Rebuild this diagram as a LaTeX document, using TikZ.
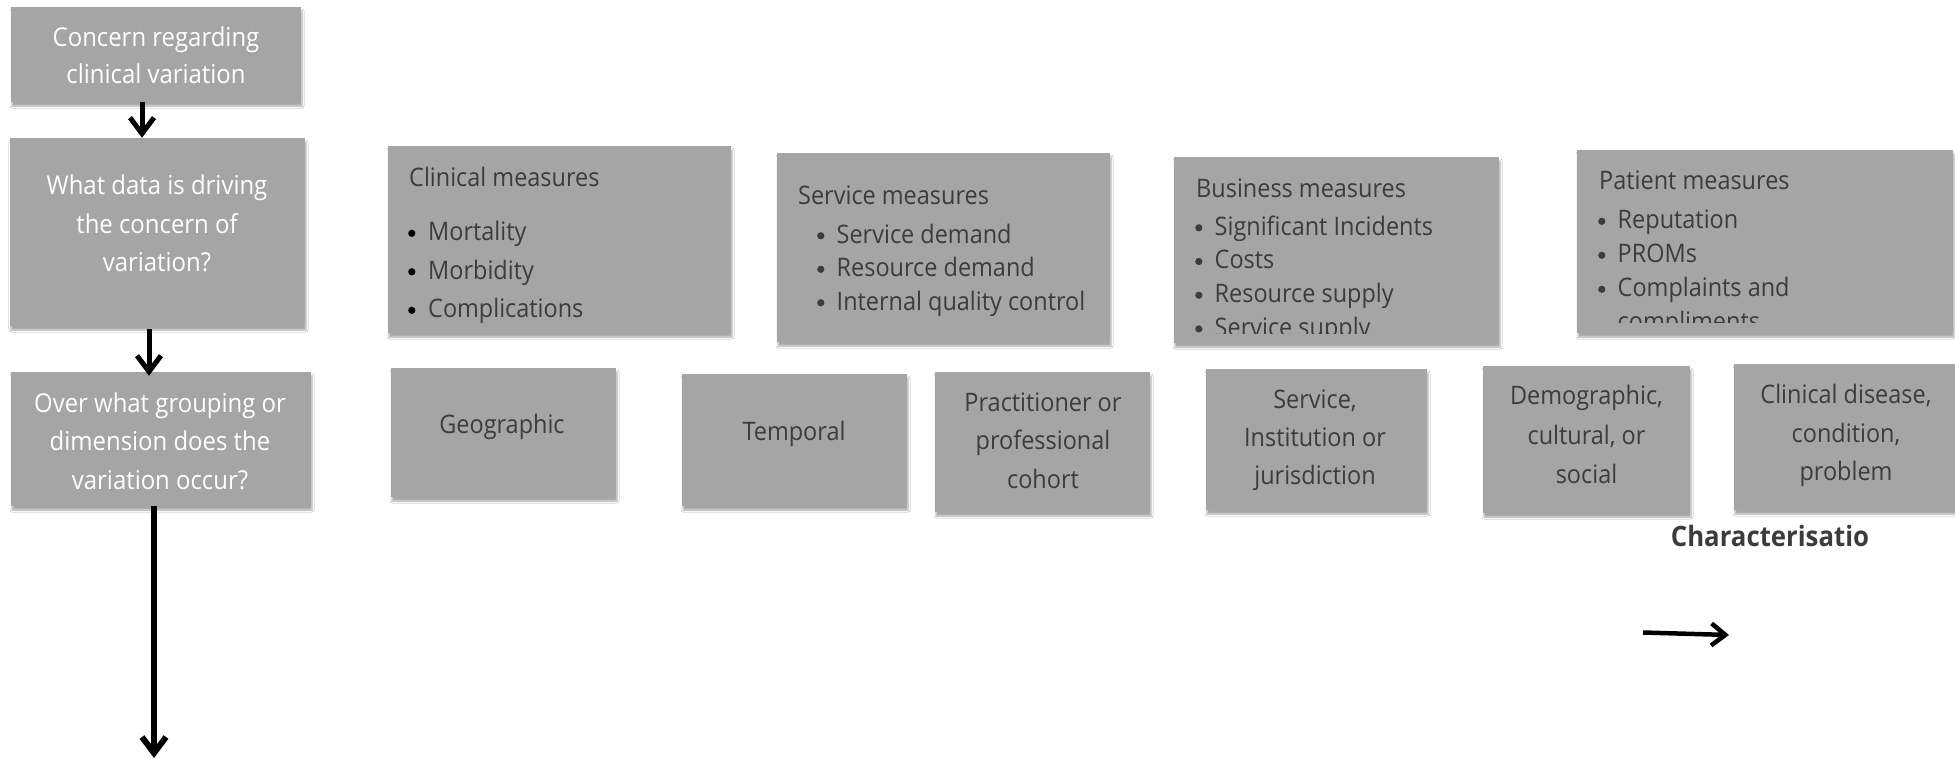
\documentclass[tikz,border=0pt]{standalone}
\usepackage{fontspec}
\setmainfont{Open Sans}[FakeStretch=0.92]
\usetikzlibrary{arrows.meta,shadows.blur}
\definecolor{boxgray}{HTML}{A5A5A5}
\definecolor{ink}{HTML}{3C3C3C}

% stacked lines with a fixed baseline distance; the first line is the baseline
\newcommand\linesc[2]{\vtop{\baselineskip=#1\lineskiplimit=-100pt\lineskip=0pt\halign{\hfil##\hfil\cr#2\crcr}}}
\newcommand\linesl[2]{\vtop{\baselineskip=#1\lineskiplimit=-100pt\lineskip=0pt\halign{##\hfil\cr#2\crcr}}}
% round list bullet
\newcommand\dotmark{\tikz[baseline=0pt]\fill (3.6pt,7.2pt) circle[radius=3.6pt];}
\newcommand\bul{\hbox to 19.5pt{\dotmark\hss}}
\newcommand\bulk{\hbox to 20pt{\color{black}\dotmark\hss}}

\begin{document}
\begin{tikzpicture}[x=1pt,y=-1pt,
  box/.style={rectangle, fill=boxgray, draw=none, inner sep=0pt,
    blur shadow={shadow xshift=1pt, shadow yshift=-4pt, shadow blur radius=2pt, shadow opacity=35}},
  wtxt/.style={inner sep=0pt, anchor=base, text=white, font=\fontsize{26}{30}\selectfont},
  dtxt/.style={inner sep=0pt, anchor=base, text=ink, font=\fontsize{25.5}{30}\selectfont},
  ltxt/.style={dtxt, anchor=base west},
  flow/.style={line width=5pt, -{Straight Barb[length=16pt,width=24pt]}},
]
\fill[white] (0,0) rectangle (1955,760);
\useasboundingbox (0,0) rectangle (1955,760);

% left-hand question column
\node[box, minimum width=290pt, minimum height=95pt]  (q1) at (156,54.5) {};
\node[box, minimum width=295pt, minimum height=188pt] (q2) at (157.5,232) {};
\node[box, minimum width=300pt, minimum height=134pt] (q3) at (161,439) {};
\node[wtxt] (q1t) at (156,46.5)  {\linesc{37pt}{Concern regarding\cr clinical variation}};
\node[wtxt] (q2t) at (157,194.5) {\linesc{38.5pt}{What data is driving\cr the concern of\cr variation?}};
\node[wtxt] (q3t) at (160,412) {\linesc{38.5pt}{Over what grouping or\cr dimension does the\cr variation occur?}};

% measure boxes
\node[box, minimum width=343pt, minimum height=187pt] (m1) at (559.5,239.5) {};
\node[box, minimum width=333pt, minimum height=189pt] (m2) at (943.5,247.5) {};
\node[box, minimum width=325pt, minimum height=186pt] (m3) at (1336.5,250) {};
\node[box, minimum width=376pt, minimum height=183pt] (m4) at (1765,241.5) {};

\node[ltxt] (m1h) at (409,186.5) {Clinical measures};
\node[ltxt] (m1l) at (408,240.5) {\linesl{38.5pt}{\bulk Mortality\cr \bulk Morbidity\cr \bulk Complications}};

\node[ltxt] (m2h) at (798,204.5) {Service measures};
\node[ltxt] (m2l) at (817,243) {\linesl{33.5pt}{\bul Service demand\cr \bul Resource demand\cr \bul Internal quality control}};

\node[ltxt] (m3h) at (1196,197) {Business measures};
\begin{scope}
  \clip (1174,157) rectangle (1499,333);
  \node[ltxt] (m3l) at (1195,235) {\linesl{33.7pt}{\bul Significant Incidents\cr \bul Costs\cr \bul Resource supply\cr \bul Service supply}};
\end{scope}

\node[ltxt] (m4h) at (1599,189.5) {Patient measures};
\begin{scope}
  \clip (1577,150) rectangle (1953,322);
  \node[ltxt] (m4l) at (1598,228.5) {\linesl{34pt}{\bul Reputation\cr \bul PROMs\cr \bul Complaints and\cr \hbox to 19.5pt{\hss}compliments}};
\end{scope}

% dimension boxes
\node[box, minimum width=225pt, minimum height=129pt] (d1) at (503.5,432.5) {};
\node[box, minimum width=225pt, minimum height=132pt] (d2) at (794.5,440) {};
\node[box, minimum width=215pt, minimum height=140pt] (d3) at (1042.5,442) {};
\node[box, minimum width=221pt, minimum height=141pt] (d4) at (1316.5,439.5) {};
\node[box, minimum width=207pt, minimum height=147pt] (d5) at (1586.5,439.5) {};
\node[box, minimum width=226pt, minimum height=146pt] (d6) at (1847,437) {};

\node[dtxt] (d1t) at (502,433.5)  {Geographic};
\node[dtxt] (d2t) at (794,440.5)  {Temporal};
\node[dtxt] (d3t) at (1043,411) {\linesc{38.5pt}{Practitioner or\cr professional\cr cohort}};
\node[dtxt] (d4t) at (1315,408.5) {\linesc{38pt}{Service,\cr Institution or\cr jurisdiction}};
\node[dtxt] (d5t) at (1586.5,404.5) {\linesc{39.5pt}{Demographic,\cr cultural, or\cr social}};
\node[dtxt] (d6t) at (1846,403.5) {\linesc{38.5pt}{Clinical disease,\cr condition,\cr problem}};

\node[inner sep=0pt, anchor=base, text=ink, font=\fontsize{28}{32}\selectfont\bfseries] (ch) at (1770,546.5) {Characterisatio};

% connectors
\coordinate (down) at (154,758);
\coordinate (ra) at (1643,632.5);
\coordinate (rb) at (1729,635);
\draw[flow] ([xshift=-14pt]q1.south) -- ([xshift=-14pt]q1.south |- q2.north);
\draw[flow] ([xshift=-8.5pt,yshift=-3pt]q2.south) -- ([xshift=-8.5pt,yshift=-4pt]q2.south |- q3.north);
\draw[flow, line width=6pt] ([xshift=-7pt]q3.south) -- (down);
\draw[line width=4.5pt, -{Straight Barb[length=14pt,width=22pt]}] (ra) -- (rb);
\end{tikzpicture}
\end{document}
